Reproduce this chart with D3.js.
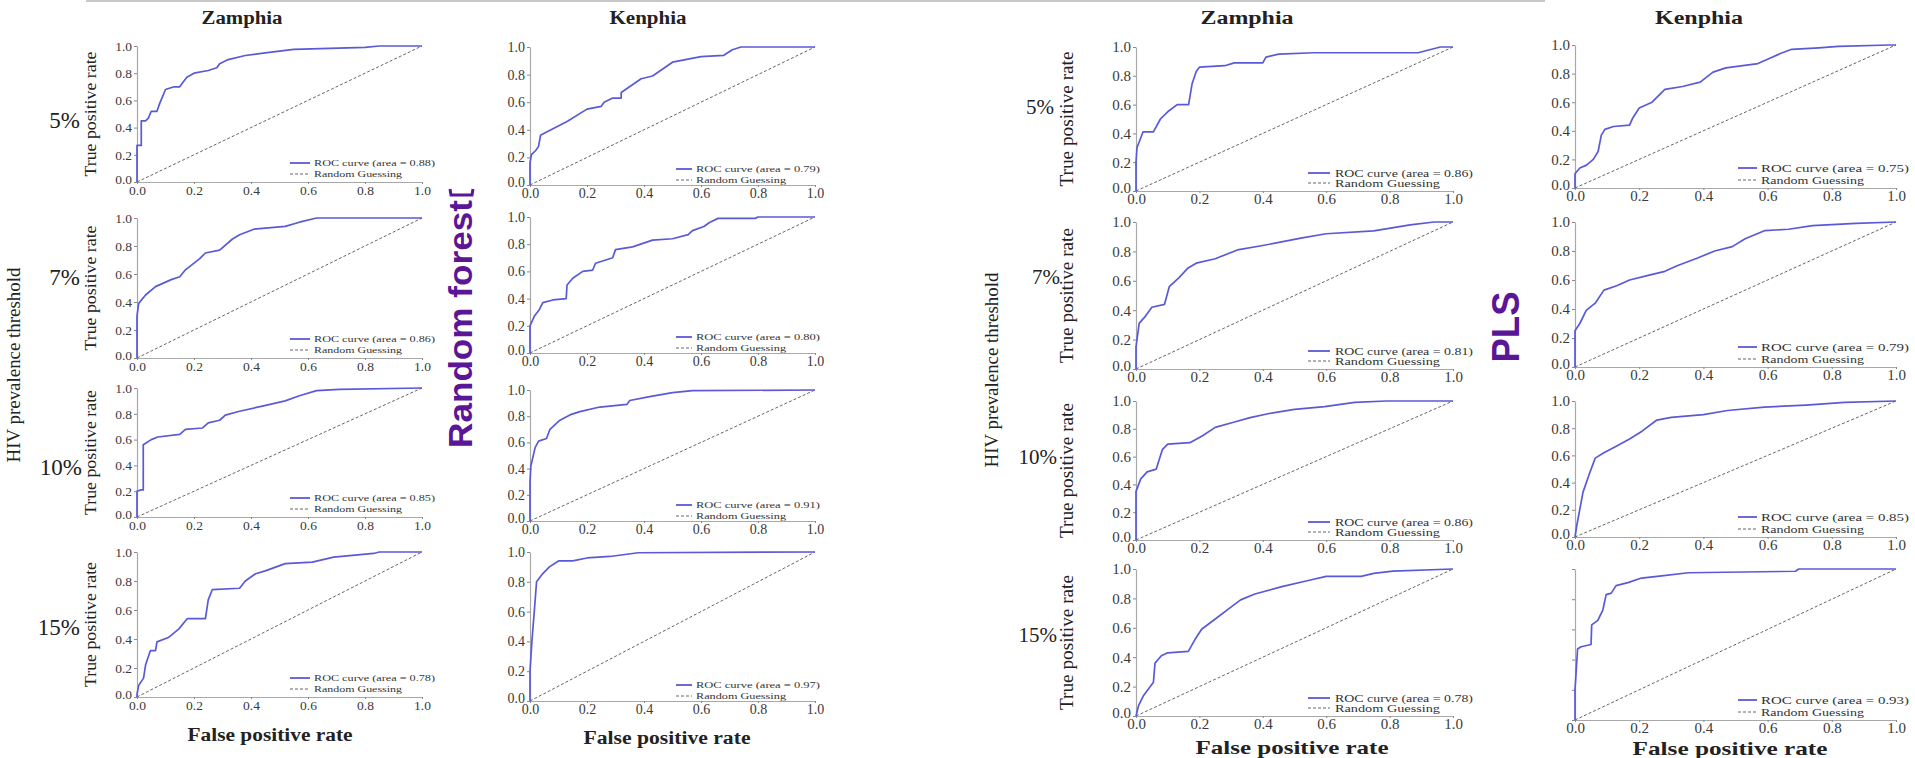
<!DOCTYPE html>
<html>
<head>
<meta charset="utf-8">
<script src="https://cdn.jsdelivr.net/npm/d3@7"></script>
<style>
  body { margin: 0; background: #fff; }
  svg text { font-family: "Liberation Serif", "DejaVu Serif", serif; }
</style>
</head>
<body>
<svg id="chart" width="1915" height="758"></svg>
<script>
// Labels
const columnTitles = ['Zamphia', 'Kenphia', 'Zamphia', 'Kenphia'];
const modelNames = ['Random forest', 'PLS'];
const thresholds = ['5%', '7%', '10%', '15%'];
const tickValues = [0, 0.2, 0.4, 0.6, 0.8, 1.0];

// AUC values per column (rows = 5%, 7%, 10%, 15%)
const aucRfZamphia = [0.88, 0.86, 0.85, 0.78];
const aucRfKenphia = [0.79, 0.80, 0.91, 0.97];
const aucPlsZamphia = [0.86, 0.81, 0.86, 0.78];
const aucPlsKenphia = [0.75, 0.79, 0.85, 0.93];

// ROC curves [false positive rate, true positive rate]
const rocRfZamphia5 = [[0,0],[0,0.27],[0.015,0.27],[0.015,0.45],[0.03,0.45],[0.04,0.47],[0.05,0.52],[0.07,0.52],[0.08,0.58],[0.09,0.63],[0.1,0.68],[0.13,0.7],[0.15,0.7],[0.16,0.73],[0.175,0.77],[0.2,0.8],[0.25,0.82],[0.28,0.84],[0.29,0.87],[0.32,0.9],[0.38,0.93],[0.45,0.95],[0.55,0.975],[0.8,0.99],[0.85,1],[1,1]];
const rocRfZamphia7 = [[0,0],[0,0.3],[0.006,0.39],[0.03,0.45],[0.065,0.51],[0.12,0.56],[0.15,0.58],[0.17,0.63],[0.22,0.71],[0.24,0.75],[0.29,0.77],[0.335,0.85],[0.36,0.88],[0.41,0.92],[0.52,0.94],[0.57,0.97],[0.63,1],[1,1]];
const rocRfZamphia10 = [[0,0],[0,0.2],[0.014,0.21],[0.022,0.21],[0.022,0.56],[0.05,0.6],[0.073,0.62],[0.15,0.64],[0.17,0.68],[0.23,0.69],[0.25,0.73],[0.29,0.75],[0.31,0.79],[0.36,0.82],[0.44,0.86],[0.52,0.9],[0.57,0.94],[0.63,0.98],[0.71,0.99],[1,1]];
const rocRfZamphia15 = [[0,0],[0,0.02],[0.006,0.08],[0.023,0.13],[0.03,0.22],[0.047,0.32],[0.065,0.32],[0.07,0.38],[0.11,0.41],[0.147,0.47],[0.176,0.54],[0.24,0.54],[0.25,0.67],[0.264,0.74],[0.36,0.75],[0.38,0.8],[0.416,0.85],[0.45,0.87],[0.52,0.92],[0.615,0.93],[0.69,0.965],[0.83,0.99],[0.85,1],[1,1]];

const rocRfKenphia5 = [[0,0],[0,0.16],[0.005,0.22],[0.02,0.25],[0.03,0.28],[0.037,0.36],[0.06,0.385],[0.13,0.46],[0.2,0.55],[0.25,0.57],[0.26,0.6],[0.29,0.63],[0.32,0.63],[0.32,0.67],[0.39,0.77],[0.43,0.79],[0.5,0.89],[0.6,0.93],[0.68,0.94],[0.71,0.98],[0.74,1],[1,1]];
const rocRfKenphia7 = [[0,0],[0,0.2],[0.015,0.27],[0.033,0.32],[0.045,0.37],[0.08,0.39],[0.127,0.4],[0.13,0.5],[0.15,0.55],[0.185,0.6],[0.22,0.61],[0.23,0.66],[0.29,0.7],[0.3,0.76],[0.36,0.78],[0.43,0.83],[0.5,0.84],[0.555,0.87],[0.57,0.9],[0.61,0.93],[0.63,0.96],[0.66,0.99],[0.79,0.99],[0.8,1],[1,1]];
const rocRfKenphia10 = [[0,0],[0,0.3],[0.003,0.42],[0.018,0.56],[0.03,0.61],[0.058,0.63],[0.07,0.7],[0.105,0.77],[0.14,0.81],[0.175,0.835],[0.245,0.87],[0.34,0.89],[0.35,0.92],[0.42,0.95],[0.5,0.98],[0.57,0.995],[1,1]];
const rocRfKenphia15 = [[0,0],[0,0.2],[0.007,0.41],[0.015,0.6],[0.023,0.8],[0.045,0.855],[0.068,0.9],[0.1,0.94],[0.15,0.94],[0.2,0.96],[0.28,0.97],[0.38,0.995],[1,1]];

const rocPlsZamphia5 = [[0,0],[0,0.2],[0.003,0.3],[0.022,0.41],[0.055,0.41],[0.077,0.5],[0.1,0.55],[0.13,0.6],[0.166,0.6],[0.177,0.745],[0.19,0.83],[0.2,0.86],[0.28,0.87],[0.31,0.89],[0.4,0.89],[0.41,0.93],[0.45,0.95],[0.56,0.96],[0.89,0.96],[0.96,1],[1,1]];
const rocPlsZamphia7 = [[0,0],[0,0.15],[0.01,0.31],[0.03,0.36],[0.05,0.42],[0.09,0.44],[0.105,0.56],[0.135,0.62],[0.163,0.685],[0.19,0.72],[0.25,0.75],[0.32,0.81],[0.4,0.84],[0.52,0.89],[0.6,0.92],[0.75,0.94],[0.865,0.98],[0.94,1],[1,1]];
const rocPlsZamphia10 = [[0,0],[0,0.35],[0.015,0.44],[0.035,0.49],[0.064,0.51],[0.083,0.65],[0.1,0.69],[0.17,0.7],[0.21,0.75],[0.25,0.81],[0.305,0.845],[0.36,0.88],[0.42,0.91],[0.5,0.94],[0.595,0.96],[0.69,0.99],[0.79,1],[1,1]];
const rocPlsZamphia15 = [[0,0],[0.008,0.07],[0.024,0.14],[0.045,0.2],[0.055,0.23],[0.06,0.36],[0.08,0.41],[0.1,0.43],[0.165,0.44],[0.186,0.52],[0.207,0.59],[0.25,0.66],[0.29,0.725],[0.33,0.79],[0.375,0.83],[0.46,0.88],[0.54,0.92],[0.6,0.95],[0.71,0.95],[0.75,0.97],[0.81,0.985],[1,1]];

const rocPlsKenphia5 = [[0,0],[0,0.1],[0.015,0.14],[0.036,0.16],[0.057,0.2],[0.072,0.255],[0.082,0.37],[0.093,0.41],[0.12,0.43],[0.17,0.44],[0.18,0.49],[0.2,0.56],[0.24,0.6],[0.28,0.69],[0.335,0.71],[0.39,0.74],[0.43,0.81],[0.47,0.84],[0.57,0.87],[0.6,0.9],[0.64,0.94],[0.675,0.97],[0.76,0.98],[0.82,0.99],[0.98,1],[1,1]];
const rocPlsKenphia7 = [[0,0],[0,0.25],[0.015,0.3],[0.035,0.39],[0.063,0.44],[0.09,0.53],[0.13,0.56],[0.17,0.6],[0.225,0.63],[0.28,0.66],[0.32,0.7],[0.38,0.75],[0.435,0.8],[0.49,0.83],[0.53,0.885],[0.59,0.94],[0.665,0.95],[0.74,0.975],[0.875,0.99],[1,1]];
const rocPlsKenphia10 = [[0,0],[0.006,0.09],[0.025,0.33],[0.044,0.46],[0.063,0.58],[0.09,0.62],[0.13,0.67],[0.17,0.72],[0.21,0.78],[0.255,0.86],[0.3,0.88],[0.4,0.9],[0.475,0.93],[0.59,0.955],[0.72,0.97],[0.84,0.99],[1,1]];
const rocPlsKenphia15 = [[0,0],[0,0.2],[0.003,0.3],[0.008,0.47],[0.019,0.485],[0.05,0.5],[0.052,0.63],[0.071,0.66],[0.087,0.73],[0.097,0.83],[0.113,0.84],[0.128,0.89],[0.165,0.91],[0.207,0.94],[0.27,0.955],[0.353,0.975],[0.687,0.985],[0.697,1],[1,1]];

const rocCurves = [
  [rocRfZamphia5, rocRfZamphia7, rocRfZamphia10, rocRfZamphia15],
  [rocRfKenphia5, rocRfKenphia7, rocRfKenphia10, rocRfKenphia15],
  [rocPlsZamphia5, rocPlsZamphia7, rocPlsZamphia10, rocPlsZamphia15],
  [rocPlsKenphia5, rocPlsKenphia7, rocPlsKenphia10, rocPlsKenphia15]
];
const aucs = [aucRfZamphia, aucRfKenphia, aucPlsZamphia, aucPlsKenphia];

// Layout (pixel positions of each panel's plot area)
const colX = [[137, 422], [530, 815], [1136, 1453], [1575, 1896]];
const rowY = [
  [[46, 182], [218, 358], [388, 517], [552, 697]],
  [[47, 185], [217, 353], [390, 521], [552, 701]],
  [[47, 191], [222, 369], [401, 540], [569, 716]],
  [[45, 188], [222, 367], [401, 537], [569, 720]]
];
const colStyle = [
  { tickFont: 13.5, pad: 1, leg: { off: 132, sw: 20, gap: 4, fs: 9, roc: 121, rg: 88, r1: 19, r2: 8 }, title: [242, 81], xlab: [270, 735, 18, 165], ylab: [90, 17, 125] },
  { tickFont: 14, pad: 1, leg: { off: 139, sw: 16, gap: 4, fs: 9, roc: 124, rg: 90, r1: 16, r2: 5 }, title: [648, 77], xlab: [667, 738, 18, 167] },
  { tickFont: 15, pad: 0, leg: { off: 145, sw: 22, gap: 5, fs: 10, roc: 138, rg: 105, r1: 18, r2: 8 }, title: [1247, 93], xlab: [1292, 747, 19, 193], ylab: [1067, 18, 135] },
  { tickFont: 15, pad: 0, leg: { off: 158, sw: 19, gap: 4, fs: 10, roc: 148, rg: 103, r1: 20, r2: 8 }, title: [1699, 88], xlab: [1730, 748, 19, 195] }
];
const rowLabelPos = [
  [[80, 120], [80, 277], [82, 467], [80, 627]],
  [[1054, 107], [1060, 277], [1057, 457], [1057, 635]]
];
const rocColor = '#5a5ad8';
const purple = '#5b1597';

const svg = d3.select('#chart');

// top rule
svg.append('line')
  .attr('x1', 86).attr('x2', 1545).attr('y1', 1).attr('y2', 1)
  .attr('stroke', '#c8c8c8').attr('stroke-width', 2);

// small purple return mark between the first two panels
svg.append('path')
  .attr('d', 'M450,189 L451,195 L472,195 L473,189')
  .attr('fill', 'none').attr('stroke', purple).attr('stroke-width', 3);

function drawPanel(ci, ri) {
  const [x0, x1] = colX[ci];
  const [y0, y1] = rowY[ci][ri];
  const style = colStyle[ci];
  const x = d3.scaleLinear().domain([0, 1]).range([x0, x1]);
  const y = d3.scaleLinear().domain([0, 1]).range([y1, y0]);
  const g = svg.append('g');

  // axes
  const xAxis = g.append('g')
    .attr('transform', `translate(0,${y1})`)
    .call(d3.axisBottom(x).tickValues(tickValues).tickFormat(d3.format('.1f'))
      .tickSize(2).tickSizeOuter(0).tickPadding(style.pad));
  const yAxis = g.append('g')
    .attr('transform', `translate(${x0},0)`)
    .call(d3.axisLeft(y).tickValues(tickValues).tickFormat(d3.format('.1f'))
      .tickSize(3).tickSizeOuter(0).tickPadding(2));
  if (ci === 3 && ri === 3) yAxis.selectAll('.tick text').remove();
  // lift the y "0.0" a touch so it clears the x "0.0" at the corner
  yAxis.selectAll('.tick text').filter(d => d === 0).attr('dy', '0.1em');

  [xAxis, yAxis].forEach(a => {
    a.select('.domain').attr('stroke', '#a8a8a8').attr('stroke-width', 1.2);
    a.selectAll('.tick line').attr('stroke', '#888');
    a.selectAll('.tick text')
      .attr('fill', '#3a3a3a')
      .style('font-family', '"Liberation Serif", serif')
      .style('font-size', style.tickFont + 'px');
  });

  // random guessing diagonal
  g.append('line')
    .attr('x1', x(0)).attr('y1', y(0)).attr('x2', x(1)).attr('y2', y(1))
    .attr('stroke', '#555').attr('stroke-width', 0.9)
    .attr('stroke-dasharray', '3,2');

  // ROC curve
  const line = d3.line().x(d => x(d[0])).y(d => y(d[1]));
  g.append('path')
    .datum(rocCurves[ci][ri])
    .attr('d', line)
    .attr('fill', 'none')
    .attr('stroke', rocColor)
    .attr('stroke-width', 1.7)
    .attr('stroke-linejoin', 'round');

  // legend
  const leg = style.leg;
  const lx = x1 - leg.off;
  const rows = [
    { y: y1 - leg.r1, text: `ROC curve (area = ${aucs[ci][ri].toFixed(2)})`, len: leg.roc, dash: null, color: rocColor, w: 1.8 },
    { y: y1 - leg.r2, text: 'Random Guessing', len: leg.rg, dash: '3,2', color: '#555', w: 0.9 }
  ];
  rows.forEach(r => {
    g.append('line')
      .attr('x1', lx).attr('x2', lx + leg.sw).attr('y1', r.y).attr('y2', r.y)
      .attr('stroke', r.color).attr('stroke-width', r.w)
      .attr('stroke-dasharray', r.dash);
    g.append('text')
      .attr('x', lx + leg.sw + leg.gap).attr('y', r.y)
      .attr('dy', '0.35em')
      .attr('textLength', r.len).attr('lengthAdjust', 'spacingAndGlyphs')
      .style('font-size', leg.fs + 'px')
      .attr('fill', '#333')
      .text(r.text);
  });

  // y label for Zamphia columns
  if (style.ylab) {
    const [lx2, fs, len] = style.ylab;
    svg.append('text')
      .attr('transform', `translate(${lx2},${(y0 + y1) / 2}) rotate(-90)`)
      .attr('text-anchor', 'middle').attr('dy', '0.35em')
      .attr('textLength', len).attr('lengthAdjust', 'spacingAndGlyphs')
      .style('font-size', fs + 'px').attr('fill', '#222')
      .text('True positive rate');
  }
}

columnTitles.forEach((t, ci) => {
  thresholds.forEach((_, ri) => drawPanel(ci, ri));
  const style = colStyle[ci];
  svg.append('text')
    .attr('x', style.title[0]).attr('y', 24)
    .attr('text-anchor', 'middle')
    .attr('textLength', style.title[1]).attr('lengthAdjust', 'spacingAndGlyphs')
    .style('font-size', '18px').style('font-weight', 'bold').attr('fill', '#222')
    .text(t);
  const [cx, cy, fs, len] = style.xlab;
  svg.append('text')
    .attr('x', cx).attr('y', cy).attr('dy', '0.35em')
    .attr('text-anchor', 'middle')
    .attr('textLength', len).attr('lengthAdjust', 'spacingAndGlyphs')
    .style('font-size', fs + 'px').style('font-weight', 'bold').attr('fill', '#222')
    .text('False positive rate');
});

// threshold row labels
rowLabelPos.forEach((col, k) => {
  col.forEach(([px, py], ri) => {
    svg.append('text')
      .attr('x', px).attr('y', py).attr('dy', '0.35em')
      .attr('text-anchor', 'end')
      .style('font-size', k === 0 ? '23px' : '21px').attr('fill', '#222')
      .text(thresholds[ri]);
  });
});

// "HIV prevalence threshold" labels
[[14, 365], [992, 370]].forEach(([px, py]) => {
  svg.append('text')
    .attr('transform', `translate(${px},${py}) rotate(-90)`)
    .attr('text-anchor', 'middle').attr('dy', '0.35em')
    .attr('textLength', 195).attr('lengthAdjust', 'spacingAndGlyphs')
    .style('font-size', '18px').attr('fill', '#222')
    .text('HIV prevalence threshold');
});

// model names
[[460, 324, 33, 248], [1506, 327, 38, 71]].forEach(([px, py, fs, len], i) => {
  svg.append('text')
    .attr('transform', `translate(${px},${py}) rotate(-90)`)
    .attr('text-anchor', 'middle').attr('dy', '0.35em')
    .attr('textLength', len).attr('lengthAdjust', 'spacingAndGlyphs')
    .style('font-family', '"Liberation Sans", Arial, sans-serif')
    .style('font-size', fs + 'px').style('font-weight', 'bold')
    .attr('fill', purple)
    .text(modelNames[i]);
});
</script>
</body>
</html>
